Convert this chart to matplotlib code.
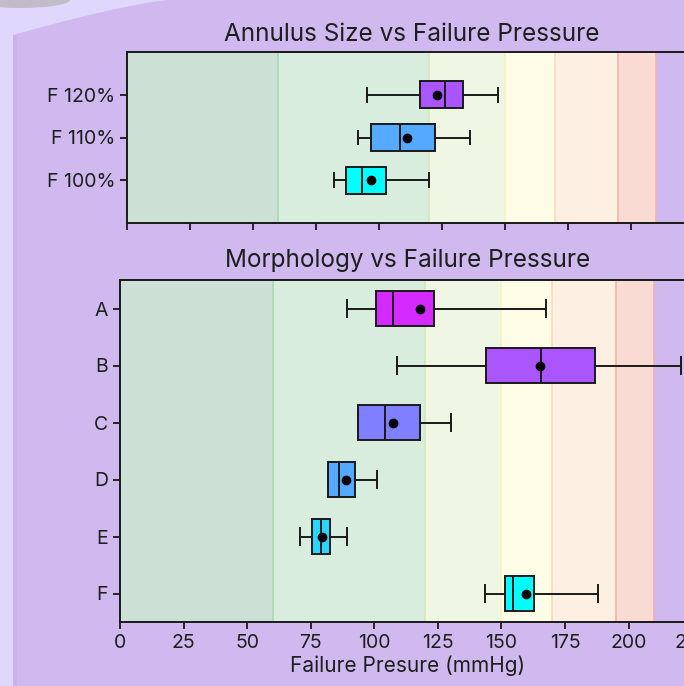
import matplotlib
matplotlib.use('Agg')
import matplotlib.pyplot as plt
from matplotlib.patches import Polygon, Rectangle, Ellipse
import numpy as np

plt.rcParams['font.family'] = ['Inter', 'DejaVu Sans']

# ---------------- data ----------------
annulus_labels = ['F 120%', 'F 110%', 'F 100%']
annulus_whislo = [95.3, 91.8, 82.1]
annulus_q1 = [116.4, 97.0, 87.1]
annulus_med = [126.1, 108.3, 93.2]
annulus_mean = [123.2, 111.0, 97.0]
annulus_q3 = [133.2, 122.1, 102.9]
annulus_whishi = [147.3, 136.2, 119.7]

morph_labels = ['A', 'B', 'C', 'D', 'E', 'F']
morph_whislo = [89.4, 109.0, 93.5, 81.7, 70.8, 143.6]
morph_q1 = [100.5, 144.1, 93.5, 81.9, 75.6, 151.6]
morph_med = [107.2, 165.5, 104.1, 86.0, 79.0, 154.7]
morph_mean = [118.0, 165.0, 107.5, 88.9, 79.5, 159.8]
morph_q3 = [123.6, 186.7, 118.1, 92.5, 82.6, 162.9]
morph_whishi = [167.5, 220.5, 130.3, 101.2, 89.1, 187.9]

band_edges = [0, 60, 120, 150, 170, 195, 210]
band_faces = ['#cce0d6', '#d9eddf', '#eff6e3', '#fdfde7', '#fdf0e2', '#f9dbd3']
band_lines = ['#b9d6c4', '#a9d8b4', '#d3eab8', '#f6f3c8', '#f9d9bc', '#f3b4a6']
right_line = '#f0b4bc'

xticks = [0, 25, 50, 75, 100, 125, 150, 175, 200, 225]

BG = '#cfb9ee'
LIGHT = '#e0d8fc'
TXT = '#1e1e1e'

fig = plt.figure(figsize=(6.84, 6.86), dpi=100, facecolor=BG)

# background decoration
bg = fig.add_axes([0, 0, 1, 1], zorder=-10)
bg.set_xlim(0, 684)
bg.set_ylim(686, 0)
bg.axis('off')
bg.patch.set_alpha(0)
xs = np.linspace(13, 168, 40)
ys = 35 * (1 - ((xs - 13) / 155)) ** 1.25
poly = [(0, 0), (0, 686), (13, 686)] + list(zip(xs, ys)) + [(168, 0)]
bg.add_patch(Polygon(poly, closed=True, facecolor=LIGHT, edgecolor='none'))
bg.add_patch(Rectangle((13, 35), 4, 651, facecolor='#c9b4e6', edgecolor='none'))
bg.add_patch(Ellipse((20, 0), 100, 16, facecolor='#bbb4bb', edgecolor='none', alpha=0.8))


def style_axes(ax):
    ax.patch.set_alpha(0)
    for s in ax.spines.values():
        s.set_color('#1a1a1a')
        s.set_linewidth(1.4)
    ax.tick_params(axis='both', colors='#1a1a1a', width=1.3, length=5,
                   labelsize=14, labelcolor=TXT)


def draw_bands(ax):
    for i in range(len(band_faces)):
        ax.axvspan(band_edges[i], band_edges[i + 1], facecolor=band_faces[i],
                   edgecolor='none', zorder=0)
        if i > 0:
            ax.axvline(band_edges[i], color=band_lines[i], lw=1.2, zorder=0.5)
    ax.axvline(band_edges[-1], color=right_line, lw=1.2, zorder=0.5)


def draw_boxes(ax, labels, wl, q1, med, mean, q3, wh, width):
    n = len(labels)
    stats = []
    for i in range(n):
        stats.append(dict(label=labels[i], whislo=wl[i], q1=q1[i], med=med[i],
                          mean=mean[i], q3=q3[i], whishi=wh[i], fliers=[]))
    pos = list(range(n))
    bp = ax.bxp(stats, positions=pos, widths=width, vert=False, patch_artist=True,
                showmeans=True, showfliers=False,
                boxprops=dict(edgecolor='#1a1a1a', linewidth=1.4),
                medianprops=dict(color='#1a1a1a', linewidth=1.4),
                whiskerprops=dict(color='#1a1a1a', linewidth=1.4),
                capprops=dict(color='#1a1a1a', linewidth=1.4),
                meanprops=dict(marker='o', markerfacecolor='black',
                               markeredgecolor='black', markersize=6),
                manage_ticks=False, zorder=3)
    for i, b in enumerate(bp['boxes']):
        b.set_facecolor(plt.cm.cool((n - 1 - i) / n))
    ax.set_yticks(pos)
    ax.set_yticklabels(labels)


# top axes
ax1 = fig.add_axes([127 / 684, (686 - 223) / 686, 226 * 2.52 / 684, 171 / 686])
style_axes(ax1)
draw_bands(ax1)
draw_boxes(ax1, annulus_labels, annulus_whislo, annulus_q1, annulus_med,
           annulus_mean, annulus_q3, annulus_whishi, 0.64)
ax1.set_xlim(0, 226)
ax1.set_ylim(3.0, -1.0)
ax1.set_xticks(xticks)
ax1.set_xticklabels([])
ax1.set_title('Annulus Size vs Failure Pressure', fontsize=17.5, color=TXT, pad=8)

# bottom axes
ax2 = fig.add_axes([120 / 684, (686 - 622) / 686, 226 * 2.5425 / 684, 342 / 686])
style_axes(ax2)
draw_bands(ax2)
draw_boxes(ax2, morph_labels, morph_whislo, morph_q1, morph_med,
           morph_mean, morph_q3, morph_whishi, 0.63)
ax2.set_xlim(0, 226)
ax2.set_ylim(5.5, -0.5)
ax2.set_xticks(xticks)
ax2.set_xticklabels([str(t) for t in xticks])
ax2.set_title('Morphology vs Failure Pressure', fontsize=17.5, color=TXT, pad=9)
ax2.set_xlabel('Failure Presure (mmHg)', fontsize=15, color=TXT, labelpad=3)

fig.savefig('out.png', dpi=100, facecolor=BG)
